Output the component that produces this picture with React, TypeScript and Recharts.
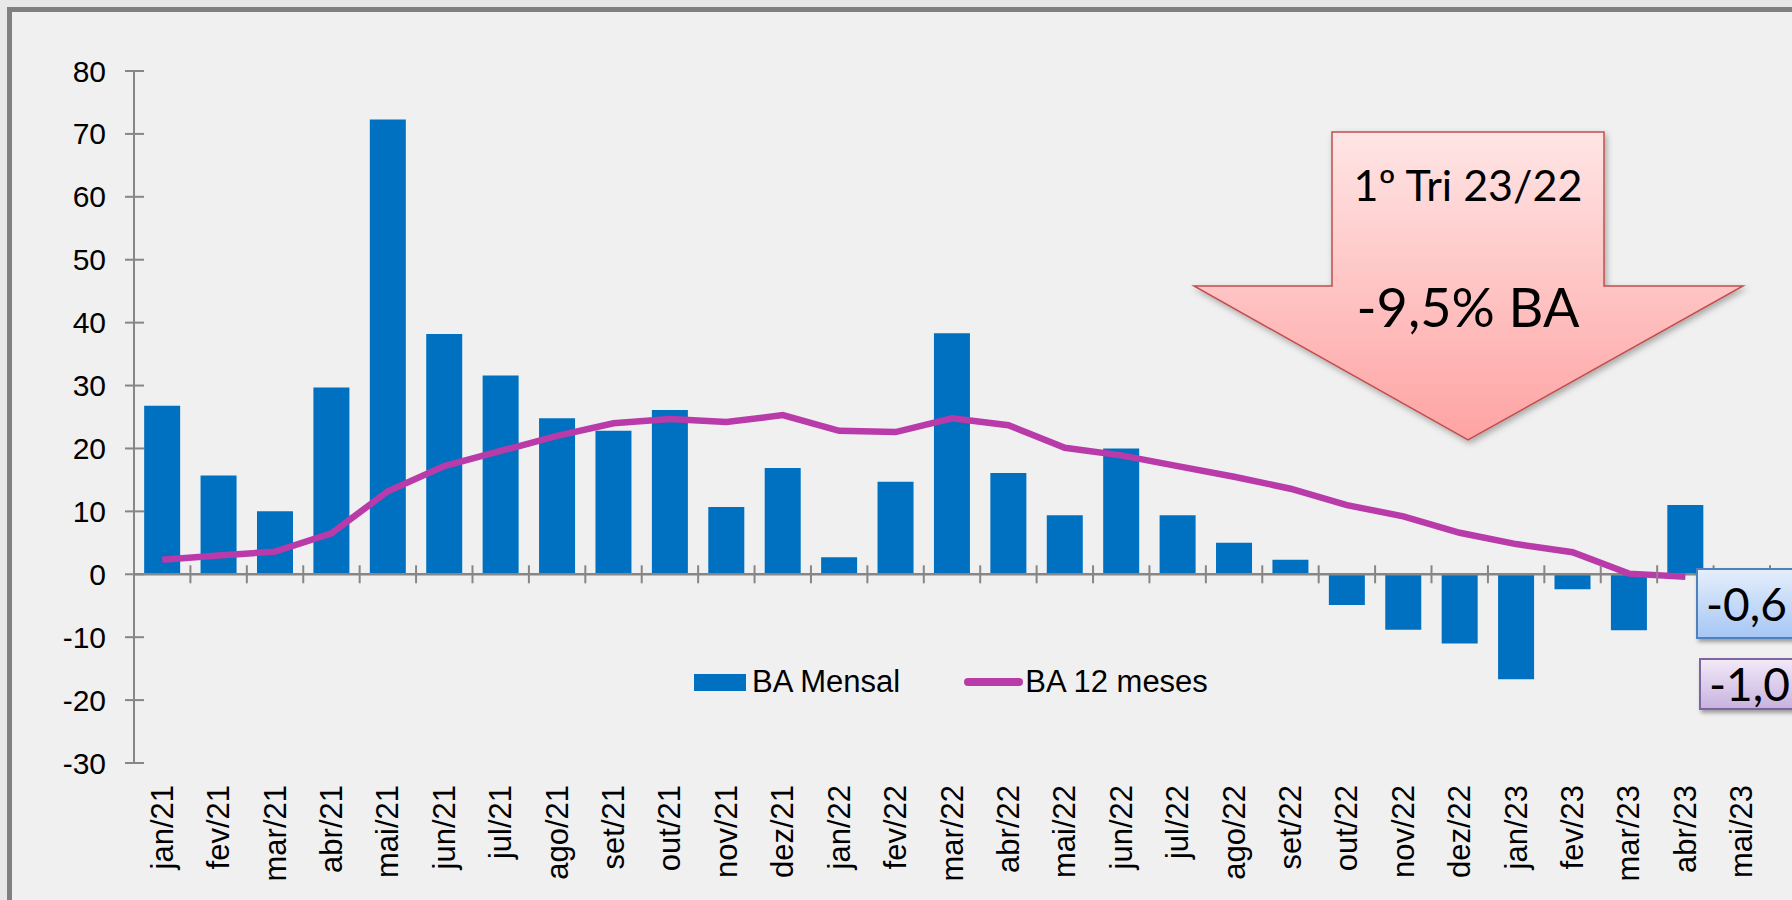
import { ComposedChart, Bar, Line, XAxis, YAxis, ReferenceLine, Legend } from 'recharts';

const months = [
  'jan/21', 'fev/21', 'mar/21', 'abr/21', 'mai/21', 'jun/21', 'jul/21', 'ago/21', 'set/21', 'out/21', 'nov/21', 'dez/21',
  'jan/22', 'fev/22', 'mar/22', 'abr/22', 'mai/22', 'jun/22', 'jul/22', 'ago/22', 'set/22', 'out/22', 'nov/22', 'dez/22',
  'jan/23', 'fev/23', 'mar/23', 'abr/23', 'mai/23'
];

const baMensal = [
  26.8, 15.7, 10.0, 29.7, 72.3, 38.2, 31.6, 24.8, 22.8, 26.1, 10.7, 16.9,
  2.7, 14.7, 38.3, 16.1, 9.4, 20.0, 9.4, 5.0, 2.3, -4.9, -8.8, -11.0,
  -16.7, -2.4, -8.9, 11.0, null
];

const ba12Meses = [
  2.3, 3.0, 3.6, 6.5, 13.2, 17.2, 19.6, 22.0, 24.0, 24.7, 24.2, 25.3,
  22.8, 22.6, 24.8, 23.7, 20.1, 18.9, 17.2, 15.5, 13.6, 11.0, 9.2, 6.6,
  4.8, 3.5, 0.1, -0.4, null
];

const yTicks = [-30, -20, -10, 0, 10, 20, 30, 40, 50, 60, 70, 80];

const data = months.map((m, i) => ({ month: m, mensal: baMensal[i], meses12: ba12Meses[i] }));

const W = 1792;
const H = 900;
const margin = { top: 71, right: 22, bottom: 7, left: 0 };
const Y_AXIS_W = 134;
const X_AXIS_H = 130;
const plotTop = margin.top;
const plotH = H - margin.top - margin.bottom - X_AXIS_H;
const plotW = W - margin.left - margin.right - Y_AXIS_W;
const band = plotW / months.length;
const yMin = yTicks[0];
const yMax = yTicks[yTicks.length - 1];
const zeroY = plotTop + (yMax / (yMax - yMin)) * plotH;

const AXIS = '#868686';
const FONT = '"Liberation Sans", Arial, sans-serif';

const YTick = (props: any) => {
  const { x, y, payload } = props;
  return (
    <g>
      <line x1={x - 9} x2={x + 10} y1={y} y2={y} stroke={AXIS} strokeWidth={2} />
      <text x={x - 28} y={y} textAnchor="end" dominantBaseline="central" fontSize={30} fontFamily={FONT} fill="#000">
        {payload.value}
      </text>
    </g>
  );
};

const XTick = (props: any) => {
  const { x, y, payload } = props;
  return (
    <g>
      <line x1={x + band / 2} x2={x + band / 2} y1={zeroY - 9} y2={zeroY + 9} stroke={AXIS} strokeWidth={2} />
      <text
        transform={`translate(${x},${y + 22}) rotate(-90)`}
        textAnchor="end"
        dominantBaseline="central"
        fontSize={31}
        fontFamily={FONT}
        fill="#000"
      >
        {payload.value}
      </text>
    </g>
  );
};

const LegendContent = (props: any) => {
  const items = [...(props.payload || [])].sort((a: any, b: any) => (a.type === 'line' ? 1 : 0) - (b.type === 'line' ? 1 : 0));
  return (
    <div style={{ display: 'flex', alignItems: 'center', fontFamily: FONT, fontSize: 31, color: '#000' }}>
      {items.map((p: any, i: number) => (
        <div key={i} style={{ display: 'flex', alignItems: 'center', marginRight: i === 0 ? 64 : 0 }}>
          {p.type === 'line' ? (
            <div style={{ width: 59, height: 8, borderRadius: 4, background: p.color, marginRight: 2 }} />
          ) : (
            <div style={{ width: 52, height: 17, background: p.color, marginRight: 6 }} />
          )}
          <span>{p.value}</span>
        </div>
      ))}
    </div>
  );
};

function Arrow() {
  return (
    <svg width={W} height={H} style={{ position: 'absolute', left: 0, top: 0, pointerEvents: 'none' }}>
      <defs>
        <linearGradient id="arrowFill" x1="0" y1="0" x2="0" y2="1">
          <stop offset="0%" stopColor="#FFE5E5" />
          <stop offset="100%" stopColor="#FFA3A3" />
        </linearGradient>
        <filter id="sh" x="-10%" y="-10%" width="130%" height="130%">
          <feDropShadow dx="2" dy="3" stdDeviation="3" floodColor="#000" floodOpacity="0.3" />
        </filter>
      </defs>
      <polygon
        points="1332,132 1604,132 1604,286 1743,286 1468,440 1194,286 1332,286"
        fill="url(#arrowFill)"
        stroke="#C0504D"
        strokeWidth={1.5}
        filter="url(#sh)"
      />
      <text x={1468} y={201} textAnchor="middle" fontFamily="Lato, 'Open Sans', sans-serif" fontSize={43} fill="#000">
        1º Tri 23/22
      </text>
      <text x={1468} y={327} textAnchor="middle" fontFamily="Lato, 'Open Sans', sans-serif" fontSize={54} fill="#000">
        -9,5% BA
      </text>
    </svg>
  );
}

function ValueBox({ top, height, left, text, from, to, border }: any) {
  return (
    <div
      style={{
        position: 'absolute',
        left,
        top,
        width: 140,
        height,
        boxSizing: 'border-box',
        border: `2px solid ${border}`,
        background: `linear-gradient(${from}, ${to})`,
        boxShadow: '2px 3px 4px rgba(0,0,0,0.35)',
        fontFamily: 'Lato, "Open Sans", sans-serif',
        fontSize: 46,
        lineHeight: `${height - 4}px`,
        paddingLeft: 8,
        color: '#000'
      }}
    >
      {text}
    </div>
  );
}

export default function App() {
  return (
    <div style={{ position: 'absolute', left: 0, top: 0, width: W, height: H, overflow: 'hidden', background: '#E8E8E9' }}>
      <div
        style={{
          position: 'absolute',
          left: 7,
          top: 7,
          width: W + 20,
          height: H + 20,
          border: '5px solid #808080',
          background: '#F0F0F1',
          boxSizing: 'border-box'
        }}
      />
      <div style={{ position: 'absolute', left: 0, top: 0 }}>
        <ComposedChart width={W} height={H} data={data} margin={margin} barCategoryGap="18%">
          <XAxis
            dataKey="month"
            height={X_AXIS_H}
            axisLine={false}
            tickLine={false}
            tickSize={0}
            tickMargin={0}
            interval={0}
            tick={<XTick />}
          />
          <YAxis
            width={Y_AXIS_W}
            domain={[yMin, yMax]}
            ticks={yTicks}
            interval={0}
            axisLine={{ stroke: AXIS, strokeWidth: 2 }}
            tickLine={false}
            tickSize={0}
            tickMargin={0}
            tick={<YTick />}
          />
          <Bar dataKey="mensal" name="BA Mensal" fill="#0070C0" isAnimationActive={false} legendType="rect" />
          <ReferenceLine y={0} stroke={AXIS} strokeWidth={2.5} />
          <Line
            dataKey="meses12"
            name="BA 12 meses"
            type="linear"
            stroke="#B93AA9"
            strokeWidth={6.5}
            dot={false}
            isAnimationActive={false}
            legendType="line"
          />
          <Legend
            layout="horizontal"
            verticalAlign="middle"
            align="center"
            content={<LegendContent />}
            wrapperStyle={{ position: 'absolute', left: 694, top: 664, width: 'auto' }}
          />
        </ComposedChart>
      </div>
      <Arrow />
      <ValueBox left={1696} top={568} height={71} text="-0,6" from="#E4EEFC" to="#A7C7F4" border="#4F81BD" />
      <ValueBox left={1699} top={658} height={52} text="-1,0" from="#F1E9F7" to="#C8B3E0" border="#8064A2" />
    </div>
  );
}
